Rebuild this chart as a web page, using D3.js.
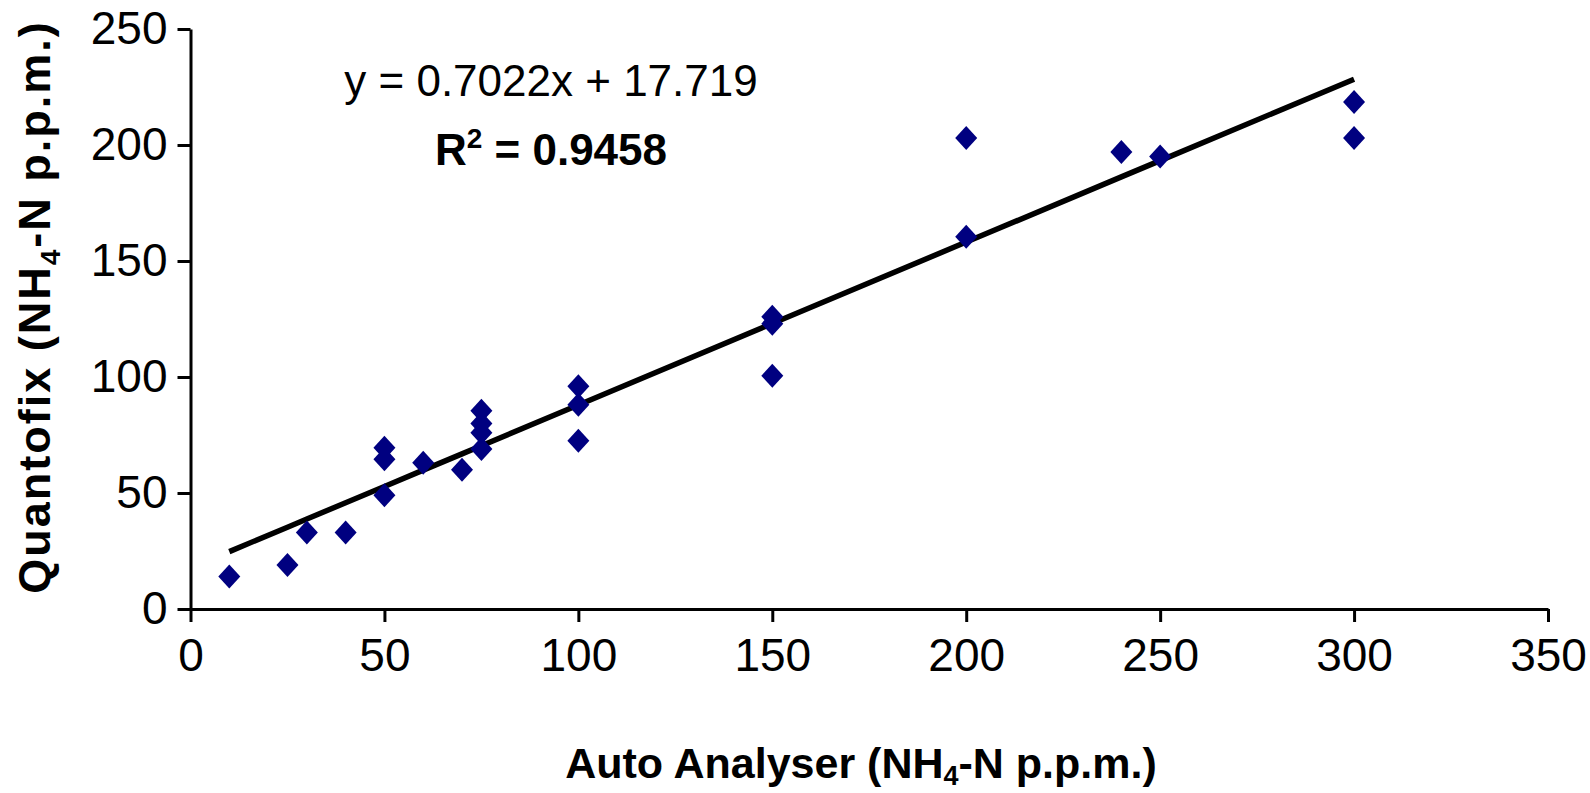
<!DOCTYPE html>
<html>
<head>
<meta charset="utf-8">
<script src="https://cdn.jsdelivr.net/npm/d3@7"></script>
<style>
  body { margin: 0; background: #fff; }
  svg text { font-family: "Liberation Sans", Arial, sans-serif; }
</style>
</head>
<body>
<svg id="chart"></svg>
<script>
// Quantofix vs Auto Analyser, ammonium nitrogen readings
const width = 1590;
const height = 793;

// data
const autoAnalyser = [10, 25, 30, 40, 50, 50, 50, 60, 70, 75, 75, 75, 75, 100, 100, 100, 150, 150, 150, 200, 200, 240, 250, 300, 300];
const quantofix   = [14, 19, 33, 33, 69.5, 64.5, 49, 63, 60, 85.5, 80, 76, 69, 96, 88, 72.5, 126, 123, 100.5, 203, 160.5, 197, 195, 218.5, 203];
const xTicks = [0, 50, 100, 150, 200, 250, 300, 350];
const yTicks = [0, 50, 100, 150, 200, 250];
const slope = 0.7022;
const intercept = 17.719;
const rSquared = "0.9458";

const svg = d3.select("#chart")
  .attr("width", width)
  .attr("height", height);

const x = d3.scaleLinear().domain([0, 350]).range([190.5, 1548]);
const y = d3.scaleLinear().domain([0, 250]).range([609, 29]);

// axes
const xAxis = svg.append("g")
  .attr("transform", `translate(0,${y(0)})`)
  .call(d3.axisBottom(x).tickValues(xTicks).tickSize(13).tickSizeOuter(0).tickPadding(16));

const yAxis = svg.append("g")
  .attr("transform", `translate(${x(0)},0)`)
  .call(d3.axisLeft(y).tickValues(yTicks).tickSize(13).tickSizeOuter(0).tickPadding(10));

[xAxis, yAxis].forEach(a => {
  a.selectAll("path, line").attr("stroke", "#000").attr("stroke-width", 3);
  a.selectAll("text").attr("fill", "#000").style("font-size", "46px");
});

// trend line (linear fit)
const fitX = Array.from(new Set(autoAnalyser)).sort((a, b) => a - b);
const line = d3.line()
  .x(d => x(d))
  .y(d => y(slope * d + intercept));

svg.append("path")
  .datum(fitX)
  .attr("d", line)
  .attr("fill", "none")
  .attr("stroke", "#000")
  .attr("stroke-width", 5.5);

// diamond markers
const points = autoAnalyser.map((v, i) => ({ x: v, y: quantofix[i] }));
svg.append("g").selectAll("path")
  .data(points)
  .enter().append("path")
  .attr("transform", d => `translate(${x(d.x)},${y(d.y)})`)
  .attr("d", "M0,-12L11,0L0,12L-11,0Z")
  .attr("fill", "#000080");

// equation + R squared
svg.append("text")
  .attr("x", 551)
  .attr("y", 96)
  .attr("text-anchor", "middle")
  .style("font-size", "44px")
  .text(`y = ${slope}x + ${intercept}`);

const r2 = svg.append("text")
  .attr("x", 551)
  .attr("y", 165)
  .attr("text-anchor", "middle")
  .attr("font-weight", "bold")
  .style("font-size", "44px");
r2.append("tspan").text("R");
r2.append("tspan").attr("dy", -17).style("font-size", "28px").text("2");
r2.append("tspan").attr("dy", 17).text(` = ${rSquared}`);

// x axis title
const xt = svg.append("text")
  .attr("x", 861)
  .attr("y", 778)
  .attr("text-anchor", "middle")
  .attr("font-weight", "bold")
  .style("font-size", "43px");
xt.append("tspan").text("Auto Analyser (NH");
xt.append("tspan").attr("dy", 7).style("font-size", "27px").text("4");
xt.append("tspan").attr("dy", -7).text("-N p.p.m.)");

// y axis title
const yt = svg.append("text")
  .attr("transform", "translate(50,307) rotate(-90)")
  .attr("text-anchor", "middle")
  .attr("font-weight", "bold")
  .style("font-size", "45px")
  .style("letter-spacing", "2px");
yt.append("tspan").text("Quantofix (NH");
yt.append("tspan").attr("dy", 10).style("font-size", "28px").text("4");
yt.append("tspan").attr("dy", -10).text("-N p.p.m.)");
</script>
</body>
</html>
